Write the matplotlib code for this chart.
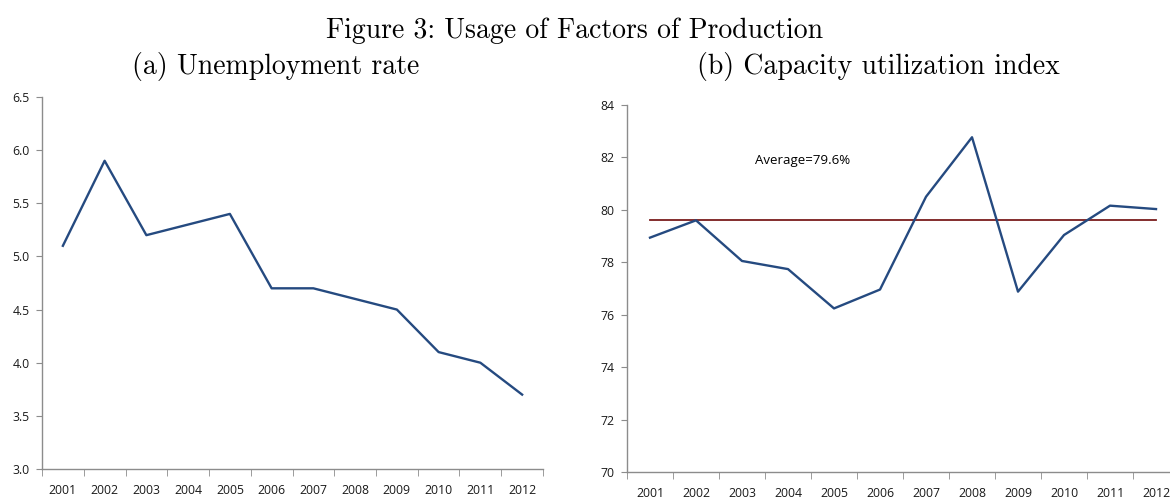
import numpy as np
import matplotlib.pyplot as plt

years = ['2001', '2002', '2003', '2004', '2005', '2006',
         '2007', '2008', '2009', '2010', '2011', '2012']
unemployment = [5.1, 5.9, 5.2, 5.3, 5.4, 4.7, 4.7, 4.6, 4.5, 4.1, 4.0, 3.7]
capacity = [78.94, 79.6, 78.05, 77.74, 76.24, 76.96,
            80.5, 82.77, 76.88, 79.04, 80.16, 80.03]
cap_average = 79.6

line_col = '#254a80'
avg_col = '#7a1c1c'
axis_col = '#8c8c8c'
tick_font = 'Open Sans'

fig = plt.figure(figsize=(11.7, 5), dpi=100)

# LaTeX-style captions
fig.text(0.4915, 0.924, 'Figure 3: Usage of Factors of Production', ha='center', va='baseline',
         fontsize=20, family='cmr10')
fig.text(0.236, 0.852, '(a) Unemployment rate', ha='center', va='baseline',
         fontsize=20, family='cmr10')
fig.text(0.751, 0.852, '(b) Capacity utilization index', ha='center', va='baseline',
         fontsize=20, family='cmr10')


def style(ax, ylo, yhi, ystep, fmt):
    x = np.arange(len(years))
    ax.set_xlim(-0.5, len(years) - 0.5)
    ax.set_xticks(x)
    ax.set_xticklabels(years)
    ax.set_xticks(np.arange(-0.5, len(years)), minor=True)
    ax.tick_params(axis='x', which='major', length=0, pad=11)
    ax.tick_params(axis='x', which='minor', length=5, color=axis_col)
    ax.set_ylim(ylo, yhi)
    yt = np.arange(ylo, yhi + ystep / 2, ystep)
    ax.set_yticks(yt)
    ax.set_yticklabels([fmt.format(v) for v in yt])
    ax.tick_params(axis='y', length=4, color=axis_col, pad=5)
    ax.tick_params(labelsize=8.8, labelcolor='#1a1a1a')
    for lab in ax.get_xticklabels() + ax.get_yticklabels():
        lab.set_family(tick_font)
    for s in ['top', 'right']:
        ax.spines[s].set_visible(False)
    for s in ['left', 'bottom']:
        ax.spines[s].set_color(axis_col)
        ax.spines[s].set_linewidth(1)


# (a) unemployment
ax1 = fig.add_axes([0.0359, 0.062, 0.4282, 0.744])
ax1.plot(np.arange(len(years)), unemployment, color=line_col, lw=1.7)
style(ax1, 3.0, 6.5, 0.5, '{:.1f}')

# (b) capacity utilization
ax2 = fig.add_axes([0.5359, 0.056, 0.4718, 0.734])
ax2.plot(np.arange(len(years)), capacity, color=line_col, lw=1.7, zorder=3)
ax2.plot([0, len(years) - 1], [cap_average] * 2, color=avg_col, lw=1.3, zorder=2)
style(ax2, 70, 84, 2, '{:.0f}')
ax2.text(3.32, 81.9, 'Average=79.6%', ha='center', va='center', fontsize=9.5, family=tick_font)

fig.savefig('out.png', dpi=100)
